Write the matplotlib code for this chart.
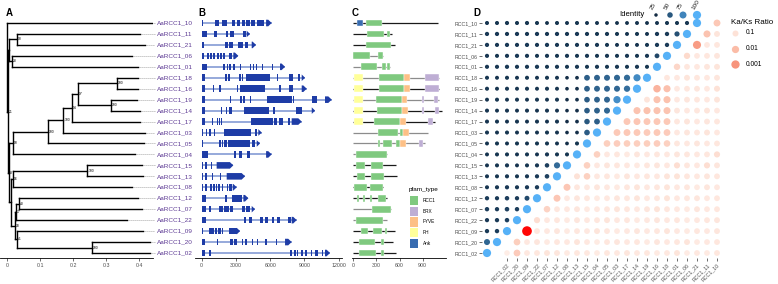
import numpy as np
import matplotlib
matplotlib.use("Agg")
import matplotlib.pyplot as plt
from matplotlib.patches import Rectangle, Polygon
from matplotlib.colors import LinearSegmentedColormap, Normalize

plt.rcParams['font.family'] = ['Liberation Sans', 'DejaVu Sans']

W, H = 778, 284
fig = plt.figure(figsize=(W / 100, H / 100), dpi=100)

# ---------------- data ----------------
# gene order, bottom -> top (also left -> right in panel D)
genes = ["02", "20", "09", "22", "07", "12", "08", "13", "15", "04", "05",
         "03", "17", "14", "19", "16", "18", "01", "06", "21", "11", "10"]
row = {g: i for i, g in enumerate(genes)}

# tree: leaf = (name, x) ; node = (x, bootstrap, [children])
tree = (0.0, None, [
    ("10", 0.438),
    (0.002, 21, [
        (0.004, None, [
            (0.028, 90, [("11", 0.402), ("21", 0.417)]),
            (0.013, 28, [("06", 0.377), ("01", 0.397)]),
        ]),
        (0.006, 8, [
            (0.016, 50, [
                (0.124, 100, [
                    (0.170, 100, [
                        (0.195, 54, [
                            (0.215, 97, [
                                (0.333, 100, [("18", 0.397), ("16", 0.397)]),
                                (0.314, 100, [("19", 0.392), ("14", 0.402)]),
                            ]),
                            ("17", 0.402),
                        ]),
                        ("03", 0.417),
                    ]),
                    ("05", 0.414),
                ]),
                ("04", 0.387),
            ]),
            (0.012, None, [
                (0.018, 56, [
                    (0.243, 100, [("15", 0.407), ("13", 0.412)]),
                    ("08", 0.377),
                ]),
                (0.022, 18, [
                    (0.026, 17, [
                        (0.036, 40, [("12", 0.397), ("07", 0.407)]),
                        ("22", 0.362),
                    ]),
                    (0.030, 41, [
                        ("09", 0.412),
                        (0.256, 100, [("20", 0.432), ("02", 0.432)]),
                    ]),
                ]),
            ]),
        ]),
    ]),
])

# gene structures (exon start, end in bp)
exons = {
    "10": [(0, 150), (1170, 1550), (1750, 2250), (2690, 2920), (3070, 3360), (3500, 3800),
           (3880, 4230), (4320, 4670), (4820, 5460), (5640, 6130)],
    "11": [(0, 500), (1080, 1370), (2130, 2340), (2480, 2860), (3650, 3880), (3940, 4230)],
    "21": [(0, 200), (2040, 2340), (2420, 2720), (3210, 3650), (3800, 4090), (4380, 4760)],
    "06": [(0, 200), (440, 670), (730, 900), (1020, 1200), (1310, 1490), (1610, 1780),
           (1900, 2040), (2390, 2630), (2770, 3210)],
    "01": [(0, 440), (1900, 2020), (2190, 2310), (2420, 2540), (2770, 2890), (3360, 3450),
           (4230, 4350), (4470, 4580), (4760, 4880), (5260, 5340), (6130, 6220), (6860, 7300)],
    "18": [(0, 290), (2040, 2190), (2340, 2480), (3300, 3420), (3500, 3650), (3880, 5990),
           (6570, 6720), (7680, 8030), (8470, 8610), (8760, 9050)],
    "16": [(0, 290), (960, 1080), (1550, 1660), (3070, 3210), (3360, 5550), (6800, 6920),
           (7680, 8030), (8760, 9200)],
    "19": [(0, 290), (2480, 2570), (3360, 3500), (3650, 3800), (4230, 4350), (5750, 7880),
           (8030, 8090), (9640, 10070), (10800, 11390)],
    "14": [(0, 290), (1660, 1780), (2130, 2250), (2420, 2630), (3740, 5900), (6280, 6420),
           (8260, 8760), (9640, 9930)],
    "17": [(0, 290), (880, 1020), (1310, 1430), (1490, 1610), (1690, 1810), (4320, 6280),
           (6340, 6630), (6800, 7150), (7590, 7740), (7880, 8760)],
    "03": [(0, 150), (380, 500), (670, 790), (1080, 1200), (1990, 4320), (4670, 4820), (4960, 5260)],
    "05": [(0, 150), (1550, 1660), (1750, 1900), (1960, 2190), (2340, 4230), (4380, 4670), (4820, 5110)],
    "04": [(0, 580), (2830, 2980), (3300, 3560), (3940, 4230), (5640, 6130)],
    "15": [(0, 150), (290, 440), (790, 900), (1310, 2770)],
    "13": [(0, 90), (290, 440), (880, 1020), (1610, 1720), (2190, 3800)],
    "08": [(0, 150), (290, 500), (730, 880), (1020, 1140), (1260, 1370), (1460, 1610),
           (1750, 1900), (2190, 2340), (2420, 2630), (2720, 3070)],
    "12": [(0, 380), (2040, 2190), (2630, 3070), (3120, 3500), (3650, 4090)],
    "07": [(0, 380), (670, 790), (1550, 1900), (1990, 2190), (2250, 2420), (2480, 2720),
           (3500, 3800), (3880, 4230), (4380, 4670)],
    "22": [(0, 380), (3710, 3880), (4180, 4380), (5110, 5400), (5550, 5780), (6130, 6340),
           (6630, 6860), (7590, 7800), (7880, 8320)],
    "09": [(0, 150), (670, 1080), (1170, 1370), (1460, 1660), (1750, 1900), (2420, 3070), (3070, 3360)],
    "20": [(0, 290), (1310, 1460), (2480, 2720), (2860, 3070), (3500, 3650), (3800, 3940),
           (4380, 4530), (4820, 4960), (5550, 5750), (6510, 6630), (7300, 7880)],
    "02": [(0, 290), (670, 820), (7740, 7880), (8090, 8230), (8320, 8470), (8670, 8910),
           (9050, 9200), (9550, 9690), (9930, 10220), (10510, 10660), (10800, 11240)],
}

# protein lengths (aa) and pfam domains (type, start, end)
prot_len = {"10": 1104, "11": 498, "21": 541, "06": 390, "01": 476, "18": 1117, "16": 1117,
            "19": 1117, "14": 1147, "17": 1061, "03": 974, "05": 931, "04": 442, "15": 554,
            "13": 572, "08": 390, "12": 433, "07": 485, "22": 442, "09": 541, "20": 520, "02": 554}
domains = {
    "10": [("Ank", 43, 130), ("RCC1", 165, 368)],
    "11": [("RCC1", 182, 398), ("RCC1", 442, 476)],
    "21": [("RCC1", 165, 489)],
    "06": [("RCC1", 0, 216), ("RCC1", 325, 381)],
    "01": [("RCC1", 95, 303), ("RCC1", 368, 420), ("RCC1", 442, 476)],
    "18": [("PH", 9, 121), ("RCC1", 333, 662), ("FYVE", 662, 736), ("BRX", 931, 1117)],
    "16": [("PH", 9, 130), ("RCC1", 333, 662), ("FYVE", 662, 736), ("BRX", 931, 1117)],
    "19": [("PH", 9, 130), ("RCC1", 294, 632), ("FYVE", 632, 701), ("BRX", 888, 918), ("BRX", 1048, 1104)],
    "14": [("PH", 9, 130), ("RCC1", 303, 632), ("FYVE", 632, 706), ("BRX", 888, 922), ("BRX", 1061, 1117)],
    "17": [("PH", 9, 130), ("RCC1", 273, 606), ("FYVE", 606, 680), ("BRX", 974, 1039)],
    "03": [("RCC1", 325, 585), ("RCC1", 606, 650), ("FYVE", 650, 723)],
    "05": [("RCC1", 316, 346), ("RCC1", 390, 498), ("RCC1", 554, 606), ("FYVE", 606, 680), ("BRX", 857, 909)],
    "04": [("RCC1", 35, 442)],
    "15": [("RCC1", 35, 152), ("RCC1", 225, 390)],
    "13": [("RCC1", 52, 152), ("RCC1", 225, 398)],
    "08": [("RCC1", 9, 173), ("RCC1", 216, 390)],
    "12": [("RCC1", 43, 78), ("RCC1", 121, 156), ("RCC1", 216, 242), ("RCC1", 325, 424)],
    "07": [("RCC1", 247, 485)],
    "22": [("RCC1", 35, 390)],
    "09": [("RCC1", 95, 195), ("RCC1", 260, 368), ("RCC1", 411, 442)],
    "20": [("RCC1", 78, 281), ("RCC1", 355, 398)],
    "02": [("RCC1", 78, 294), ("RCC1", 355, 403)],
}
pfam_types = ["RCC1", "BRX", "FYVE", "PH", "Ank"]

# identity (%) lower triangle, row i (bottom->top) against genes[0..i]
identity = [
    [100],
    [58, 100],
    [34, 35, 100],
    [33, 34, 36, 100],
    [35, 34, 37, 35, 100],
    [34, 33, 36, 34, 42, 100],
    [31, 32, 33, 32, 33, 34, 100],
    [31, 31, 32, 31, 32, 33, 37, 100],
    [30, 31, 32, 30, 31, 32, 36, 60, 100],
    [30, 31, 31, 30, 31, 30, 32, 31, 31, 100],
    [30, 31, 30, 31, 30, 31, 31, 30, 28, 31, 100],
    [31, 30, 31, 30, 31, 30, 31, 30, 27, 28, 52, 100],
    [31, 31, 30, 31, 30, 31, 30, 31, 27, 28, 50, 54, 100],
    [31, 30, 31, 30, 31, 30, 31, 30, 27, 28, 52, 55, 58, 100],
    [30, 31, 30, 31, 30, 31, 30, 31, 27, 28, 52, 55, 57, 80, 100],
    [31, 30, 31, 30, 31, 30, 31, 30, 27, 28, 54, 56, 57, 58, 62, 100],
    [31, 30, 31, 30, 31, 30, 31, 30, 27, 28, 54, 56, 57, 58, 60, 78, 100],
    [32, 32, 33, 32, 32, 33, 31, 32, 31, 32, 31, 32, 31, 32, 31, 32, 31, 100],
    [32, 31, 32, 33, 32, 31, 32, 31, 32, 31, 32, 31, 32, 31, 32, 31, 32, 40, 100],
    [33, 32, 33, 32, 33, 32, 33, 32, 31, 32, 31, 32, 31, 30, 31, 30, 31, 33, 34, 100],
    [33, 33, 32, 33, 32, 33, 32, 33, 32, 33, 32, 31, 32, 31, 30, 31, 30, 33, 34, 45, 100],
    [31, 31, 32, 31, 32, 31, 29, 31, 30, 31, 30, 30, 29, 29, 29, 30, 29, 30, 31, 31, 32, 100],
]

# Ka/Ks ratio upper part, row i against genes[i..21]
kaks = [
    [0.2, 0.025, 0.15, 0.14, 0.12, 0.13, 0.16, 0.14, 0.15, 0.17, 0.14, 0.15, 0.13, 0.15, 0.14,
     0.16, 0.15, 0.12, 0.18, 0.15, 0.16, 0.14],
    [0.03, 0.15, 0.13, 0.16, 0.14, 0.15, 0.12, 0.15, 0.17, 0.14, 0.13, 0.15, 0.14, 0.16, 0.13,
     0.15, 0.14, 0.12, 0.16, 0.15, 0.14],
    [0.00003, 0.14, 0.15, 0.13, 0.16, 0.14, 0.15, 0.12, 0.14, 0.16, 0.15, 0.13, 0.15, 0.14,
     0.12, 0.15, 0.16, 0.14, 0.15, 0.13],
    [0.08, 0.15, 0.14, 0.16, 0.13, 0.15, 0.14, 0.12, 0.15, 0.14, 0.16, 0.15, 0.13, 0.15, 0.14,
     0.16, 0.15, 0.14, 0.13],
    [0.04, 0.14, 0.15, 0.13, 0.16, 0.15, 0.14, 0.12, 0.14, 0.15, 0.13, 0.11, 0.14, 0.15, 0.16,
     0.13, 0.15, 0.14],
    [0.018, 0.15, 0.13, 0.14, 0.16, 0.15, 0.13, 0.14, 0.12, 0.15, 0.14, 0.11, 0.15, 0.14, 0.13,
     0.15, 0.14],
    [0.018, 0.14, 0.15, 0.13, 0.15, 0.16, 0.14, 0.12, 0.15, 0.14, 0.12, 0.15, 0.14, 0.16, 0.13, 0.15],
    [0.1, 0.035, 0.15, 0.14, 0.16, 0.13, 0.15, 0.14, 0.15, 0.12, 0.11, 0.14, 0.15, 0.13, 0.14],
    [0.035, 0.15, 0.13, 0.14, 0.15, 0.16, 0.14, 0.13, 0.15, 0.08, 0.14, 0.15, 0.08, 0.13],
    [0.035, 0.15, 0.14, 0.16, 0.13, 0.15, 0.14, 0.15, 0.13, 0.14, 0.15, 0.14, 0.08],
    [0.03, 0.028, 0.03, 0.032, 0.03, 0.028, 0.035, 0.14, 0.15, 0.13, 0.15, 0.14],
    [0.022, 0.02, 0.022, 0.024, 0.022, 0.025, 0.15, 0.13, 0.14, 0.12, 0.15],
    [0.02, 0.018, 0.02, 0.02, 0.022, 0.14, 0.12, 0.15, 0.13, 0.14],
    [0.015, 0.014, 0.015, 0.016, 0.13, 0.15, 0.14, 0.12, 0.15],
    [0.12, 0.015, 0.014, 0.15, 0.13, 0.14, 0.15, 0.12],
    [0.006, 0.013, 0.15, 0.14, 0.13, 0.15, 0.1],
    [0.14, 0.15, 0.12, 0.14, 0.15, 0.13],
    [0.05, 0.14, 0.15, 0.13, 0.12],
    [0.06, 0.15, 0.14, 0.13],
    [0.0015, 0.15, 0.14],
    [0.015, 0.12],
    [0.02],
]

id_legend = [25, 50, 75, 100]
kaks_legend = [0.1, 0.01, 0.001]

# ---------------- styles ----------------
purple = '#5d3a94'
tick_grey = '#4d4d4d'
pfam_colors = {"RCC1": "#7fc97f", "BRX": "#beaed4", "FYVE": "#fdc086", "PH": "#ffff99", "Ank": "#386cb0"}
grey_line = {"06", "01", "18", "19", "03", "05", "04", "07", "22"}

id_cmap = LinearSegmentedColormap.from_list('id', ['#132B43', '#56B1F7'])
id_norm = Normalize(25, 100)
kk_cmap = LinearSegmentedColormap.from_list(
    'kk', [(0.0, '#fff4f0'), (0.122, '#fde2d7'), (0.366, '#fbbca7'), (0.61, '#f7957d'), (1.0, '#ff0000')])
kk_norm = Normalize(0.5, 4.6)


def id_size(v):
    v = np.asarray(v, float)
    return 0.5184 * np.clip(0.74 * v - 6.5, 4, None)


def kk_size(r):
    v = -np.log10(np.asarray(r, float))
    return 0.5184 * np.clip(36 + 16.5 * (v - 1), 12, None)


Y0, Y1 = -(258 - 253) / 10.952, 21 + (23 - 18) / 10.952


def axes_px(x0, x1, y0=18, y1=258):
    ax = fig.add_axes([x0 / W, 1 - y1 / H, (x1 - x0) / W, (y1 - y0) / H])
    ax.set_ylim(Y0, Y1)
    ax.set_facecolor('none')
    return ax


def bottom_axis(ax, ticks, labels):
    for s in ['left', 'top', 'right']:
        ax.spines[s].set_visible(False)
    ax.spines['bottom'].set_linewidth(0.6)
    ax.set_yticks([])
    ax.set_xticks(ticks)
    ax.set_xticklabels(labels)
    ax.tick_params(axis='x', length=2.2, width=0.5, color='#333333', labelsize=3.8,
                   labelcolor=tick_grey, pad=1.5)


# ---------------- A: tree ----------------
axA = axes_px(0, 153)
axA.set_xlim((0 - 7.3) / 330, (153 - 7.3) / 330)


def draw_clade(ax, node):
    if isinstance(node[0], str):
        name, x = node
        y = row[name]
        ax.plot([x, 0.447], [y, y], ls=(0, (1, 1.4)), color='#8a8a8a', lw=0.6, clip_on=False)
        ax.text(0.454, y, "AaRCC1_" + name, color=purple, fontsize=4.6, va='center', ha='left',
                clip_on=False)
        return x, y
    x, boot, kids = node
    ys = []
    for kid in kids:
        kx, ky = draw_clade(ax, kid)
        ax.plot([x, kx], [ky, ky], color='black', lw=1.0, solid_capstyle='projecting')
        ys.append(ky)
    ax.plot([x, x], [min(ys), max(ys)], color='black', lw=1.0, solid_capstyle='projecting')
    y = sum(ys) / len(ys)
    if boot is not None:
        ax.text(x + 0.003, y, str(boot), fontsize=2.4, va='center', ha='left')
    return x, y


draw_clade(axA, tree)
bottom_axis(axA, [0, 0.1, 0.2, 0.3, 0.4], ["0", "0.1", "0.2", "0.3", "0.4"])

# ---------------- B: gene structure ----------------
axB = axes_px(195, 342)
axB.set_xlim((195 - 201.7) * 12000 / 137, (342 - 201.7) * 12000 / 137)
exon_h = 0.6
for g, ex in exons.items():
    y = row[g]
    end = ex[-1][1]
    axB.plot([0, end], [y, y], color='#8ea2d8', lw=1.3, solid_capstyle='butt', zorder=1)
    for s, e in ex[:-1]:
        axB.add_patch(Rectangle((s, y - exon_h / 2), e - s, exon_h, color='#1e3ca6', lw=0, zorder=2))
    s, e = ex[-1]
    tip = min(300, e - s)
    axB.add_patch(Polygon([(s, y - exon_h / 2), (e - tip, y - exon_h / 2), (e, y),
                           (e - tip, y + exon_h / 2), (s, y + exon_h / 2)],
                          closed=True, color='#1e3ca6', lw=0, zorder=2))
bottom_axis(axB, [0, 3000, 6000, 9000, 12000], ["0", "3000", "6000", "9000", "12000"])

# ---------------- C: protein domains ----------------
axC = axes_px(352, 446)
axC.set_xlim((352 - 353.3) / 0.077, (446 - 353.3) / 0.077)
dom_h = 0.62
for g, L in prot_len.items():
    y = row[g]
    axC.plot([0, L], [y, y], color='#8c8c8c' if g in grey_line else '#1a1a1a', lw=0.9,
             solid_capstyle='butt', zorder=1, clip_on=False)
    for t, s, e in domains[g]:
        axC.add_patch(Rectangle((s, y - dom_h / 2), e - s, dom_h, facecolor=pfam_colors[t],
                                edgecolor='white', lw=0.3, zorder=2, clip_on=False))
bottom_axis(axC, [0, 300, 600, 900], ["0", "300", "600", "900"])

# ---------------- D: identity / KaKs matrix ----------------
axD = axes_px(482, 728)
axD.set_xlim(-0.5, 24.1)
xs, ys, vs = [], [], []
for i, r in enumerate(identity):
    for j, v in enumerate(r):
        xs.append(j); ys.append(i); vs.append(v)
axD.scatter(xs, ys, s=id_size(vs), c=vs, cmap=id_cmap, norm=id_norm, linewidths=0, zorder=3)
xs, ys, vs = [], [], []
for i, r in enumerate(kaks):
    for k, v in enumerate(r):
        xs.append(i + k + 2); ys.append(i); vs.append(v)
vs = np.array(vs)
axD.scatter(xs, ys, s=kk_size(vs), c=-np.log10(vs), cmap=kk_cmap, norm=kk_norm, linewidths=0, zorder=2)
for s in axD.spines.values():
    s.set_visible(False)
axD.set_yticks(range(len(genes)))
axD.set_yticklabels(["RCC1_" + g for g in genes])
axD.set_xticks([j + 2 for j in range(len(genes))])
axD.set_xticklabels(["RCC1_" + g for g in genes], rotation=45, ha='right', rotation_mode='anchor')
axD.tick_params(axis='both', length=2, width=0.5, color='#333333', labelsize=3.8,
                labelcolor=tick_grey, pad=1.2)

# ---------------- overlay: panel letters and legends ----------------
ov = fig.add_axes([0, 0, 1, 1])
ov.set_xlim(0, W)
ov.set_ylim(H, 0)
ov.axis('off')
ov.set_zorder(10)
for lab, x in [("A", 6), ("B", 198), ("C", 352), ("D", 473)]:
    ov.text(x, 13, lab, fontsize=7, fontweight='bold', va='center', ha='left')

# pfam legend
ov.text(409, 189, "pfam_type", fontsize=4.6, va='center', ha='left')
for k, t in enumerate(pfam_types):
    yy = 200.5 + k * 10.7
    ov.add_patch(Rectangle((410, yy - 4.6), 8, 9.2, facecolor=pfam_colors[t], edgecolor='none'))
    ov.text(423, yy, t, fontsize=3.4, va='center', ha='left')

# identity legend
lx = [656, 670, 683, 697]
ov.scatter(lx, [15] * 4, s=id_size(id_legend), c=id_legend, cmap=id_cmap, norm=id_norm, linewidths=0)
for x, v in zip(lx, id_legend):
    ov.text(x - 2, 10.5, str(v), rotation=60, rotation_mode='anchor', ha='left', va='bottom',
            fontsize=4.6, color='#222222')
ov.text(619, 15, "Identity", fontsize=5.6, va='center', ha='left')

# Ka/Ks legend
ov.text(731, 22, "Ka/Ks Ratio", fontsize=5.8, va='center', ha='left')
for k, v in enumerate(kaks_legend):
    yy = 33 + k * 15.5
    ov.scatter([735], [yy], s=kk_size([v]), c=[-np.log10(v)], cmap=kk_cmap, norm=kk_norm, linewidths=0)
    ov.text(746, yy, str(v), fontsize=4.8, va='center', ha='left')

fig.savefig("out.png", dpi=100)
